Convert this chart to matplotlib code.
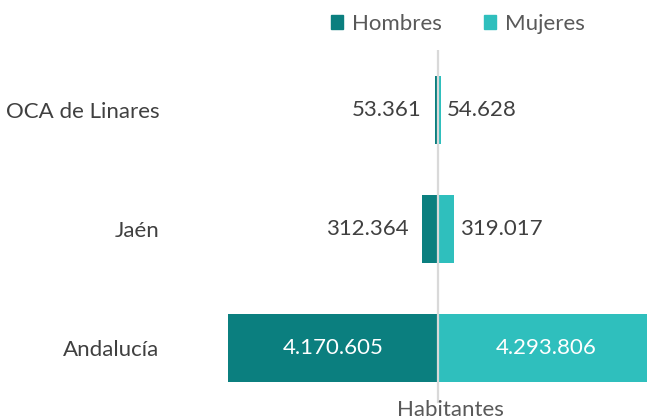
import matplotlib.pyplot as plt
from matplotlib.patches import Patch

plt.rcParams['font.family'] = ['Lato', 'DejaVu Sans']

# Datos
categorias = ['OCA de Linares', 'Jaén', 'Andalucía']
hombres = [53361, 312364, 4170605]
mujeres = [54628, 319017, 4293806]

c_hom = '#0b7f7f'
c_muj = '#2fbfbd'
gris = '#404040'


def fmt(v):
    return f"{v:,}".replace(",", ".")


W, H = 647, 419
fig = plt.figure(figsize=(W / 100, H / 100), dpi=100)
ax = fig.add_axes([172 / W, 1 - 407.5 / H, (W - 172) / W, 357 / H])

pos = list(range(len(categorias)))
escala = 210 / hombres[2]  # px por habitante
ax.barh(pos, [-h for h in hombres], height=0.57, color=c_hom, zorder=2)
ax.barh(pos, mujeres, height=0.57, color=c_muj, zorder=2)
ax.axvline(0, ymin=5.5 / 357, color='#d9d9d9', lw=1.6, zorder=3)

ax.set_xlim(-(438 - 172) / escala, (W - 438) / escala)
ax.set_ylim(len(categorias) - 0.5, -0.5)

off = 6 / escala
fs = 16
for i in pos:
    if i == 2:
        ax.text(-hombres[i] / 2, i, fmt(hombres[i]), ha='center', va='center',
                color='white', fontsize=fs)
        ax.text(mujeres[i] / 2, i, fmt(mujeres[i]), ha='center', va='center',
                color='white', fontsize=fs)
    else:
        ax.text(-hombres[i] - off - 8 / escala, i, fmt(hombres[i]), ha='right', va='center',
                color=gris, fontsize=fs)
        ax.text(mujeres[i] + off, i, fmt(mujeres[i]), ha='left', va='center',
                color=gris, fontsize=fs)

ax.set_yticks(pos)
ax.set_yticklabels(categorias, fontsize=fs, color=gris)
ax.tick_params(axis='y', length=0, pad=9)
ax.set_xticks([])
for s in ax.spines.values():
    s.set_visible(False)

fig.text(450 / W, 1 - 410 / H, 'Habitantes', ha='center', va='center',
         fontsize=fs, color='#595959')

handles = [Patch(color=c_hom, label='Hombres'), Patch(color=c_muj, label='Mujeres')]
fig.legend(handles=handles, loc='center', bbox_to_anchor=(458 / W, 1 - 24 / H),
           ncol=2, frameon=False, fontsize=fs, handlelength=0.55, handleheight=0.55,
           handletextpad=0.4, columnspacing=1.9, labelcolor='#595959')

fig.savefig('out.png', dpi=100)
